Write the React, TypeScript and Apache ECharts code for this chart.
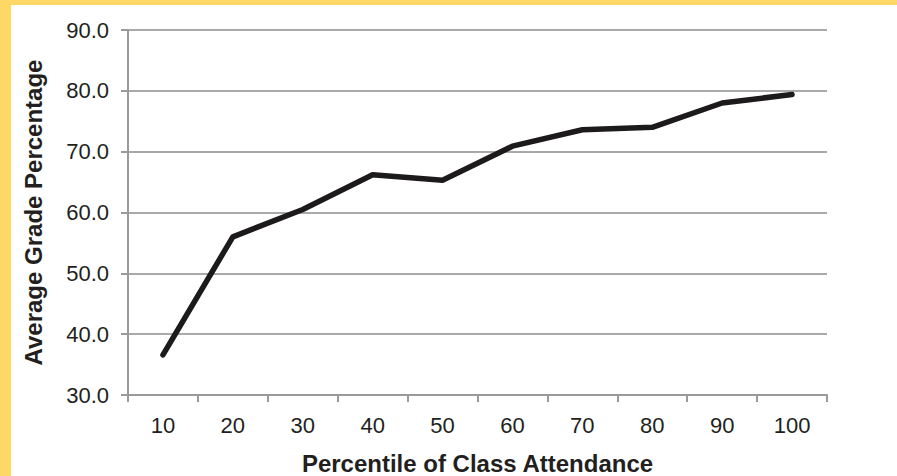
import React, { useEffect, useRef } from "react";
import * as echarts from "echarts";

const categories = ["10", "20", "30", "40", "50", "60", "70", "80", "90", "100"];
const averageGrade = [36.6, 56.0, 60.5, 66.2, 65.3, 70.9, 73.6, 74.0, 78.0, 79.4];
const yTicks = { min: 30, max: 90, interval: 10 };
const xName = "Percentile of Class Attendance";
const yName = "Average Grade Percentage";

const FONT = "'Liberation Sans', Arial, Helvetica, sans-serif";

export default function App() {
  const ref = useRef<HTMLDivElement>(null);
  useEffect(() => {
    document.body.style.margin = "0";
    const chart = echarts.init(ref.current!, null, { renderer: "svg" });
    chart.setOption({
      animation: false,
      backgroundColor: "transparent",
      textStyle: { fontFamily: FONT },
      grid: { left: 128, right: 70, top: 30, bottom: 81, containLabel: false, outerBoundsMode: "none" },
      xAxis: {
        type: "category",
        data: categories,
        boundaryGap: true,
        name: xName,
        nameLocation: "middle",
        nameGap: 56,
        nameTextStyle: { fontFamily: FONT, fontSize: 24, fontWeight: "bold", color: "#231f20" },
        axisLine: { lineStyle: { color: "#9a9a9a", width: 2 } },
        axisTick: { show: true, length: 7, alignWithLabel: false, lineStyle: { color: "#9a9a9a", width: 2 } },
        axisLabel: { fontFamily: FONT, fontSize: 22, color: "#231f20", margin: 19, interval: 0 },
        splitLine: { show: false },
      },
      yAxis: {
        type: "value",
        min: yTicks.min,
        max: yTicks.max,
        interval: yTicks.interval,
        name: yName,
        nameLocation: "middle",
        nameGap: 83,
        nameTextStyle: { fontFamily: FONT, fontSize: 24, fontWeight: "bold", color: "#231f20" },
        axisLine: { show: true, lineStyle: { color: "#9a9a9a", width: 2 } },
        axisTick: { show: true, length: 7, lineStyle: { color: "#9a9a9a", width: 2 } },
        axisLabel: {
          fontFamily: FONT,
          fontSize: 22,
          color: "#231f20",
          margin: 19,
          formatter: (v: number) => v.toFixed(1),
        },
        splitLine: { show: true, lineStyle: { color: "#aaaaaa", width: 2 } },
      },
      series: [
        {
          type: "line",
          data: averageGrade,
          symbol: "none",
          lineStyle: { color: "#1d1a1b", width: 5.5, cap: "round", join: "round" },
          itemStyle: { color: "#1d1a1b" },
        },
      ],
    });
    return () => chart.dispose();
  }, []);
  return (
    <div style={{ position: "absolute", left: 0, top: 0, width: 897, height: 476, background: "#fed866" }}>
      <div style={{ position: "absolute", left: 11, top: 5, width: 886, height: 471, background: "#ffffff" }} />
      <div ref={ref} style={{ position: "absolute", left: 0, top: 0, width: 897, height: 476 }} />
    </div>
  );
}
